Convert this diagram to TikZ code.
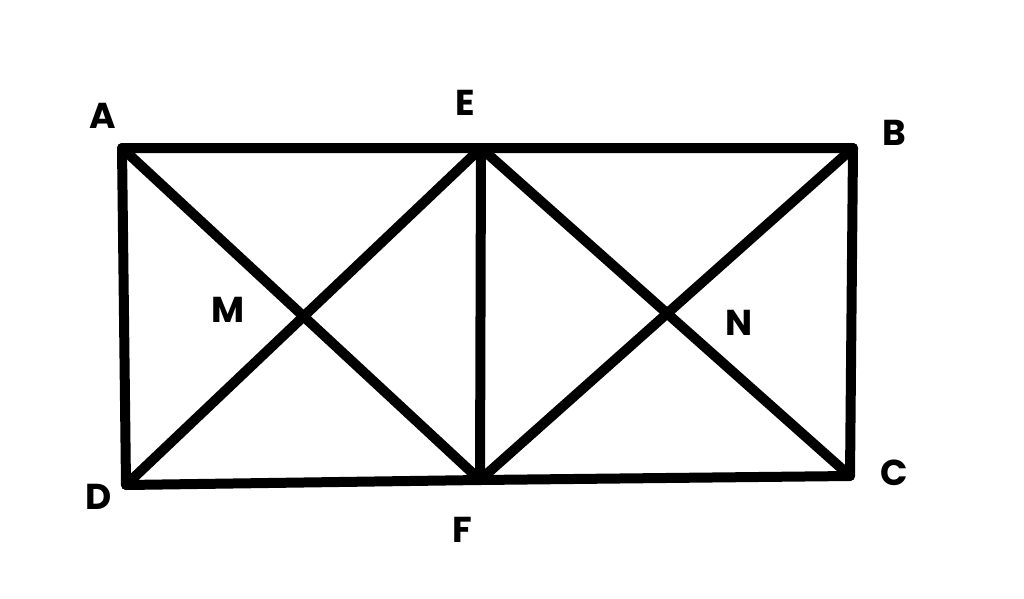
\documentclass[tikz,border=0pt]{standalone}
\usepackage{fontspec}
\setmainfont{Poppins}
\usetikzlibrary{positioning}
\tikzset{
    edge/.style={draw=black, line width=10pt, line cap=round, line join=round},
    lbl/.style={font=\fontsize{36}{40}\selectfont\bfseries, inner sep=0pt},
}
\begin{document}
\begin{tikzpicture}[x=1pt, y=-1pt]
	\useasboundingbox (0,0) rectangle (1024,598);
	% corners of the two squares
	\coordinate (A) at (122,148);
	\coordinate (E) at (481,148);
	\coordinate (B) at (853,148);
	\coordinate (D) at (126,485);
	\coordinate (F) at (480,480);
	\coordinate (C) at (850,476);
	% outline
	\draw[edge] (A) -- (E) -- (B) -- (C) -- (F) -- (D) -- cycle;
	\draw[edge] (E) -- (F);
	% diagonals
	\draw[edge] (A) -- (F);
	\draw[edge] (D) -- (E);
	\draw[edge] (E) -- (C);
	\draw[edge] (F) -- (B);
	% labels
	\node[lbl] (lA) at (103,116) {A};
	\node[lbl] (lE) at (465,103) {E};
	\node[lbl] (lB) at (894,133) {B};
	\node[lbl] (lD) at (99,497) {D};
	\node[lbl] (lF) at (462,530) {F};
	\node[lbl] (lC) at (894,473) {C};
	\node[lbl] (lM) at (228,310) {M};
	\node[lbl] (lN) at (739,323) {N};
\end{tikzpicture}
\end{document}
